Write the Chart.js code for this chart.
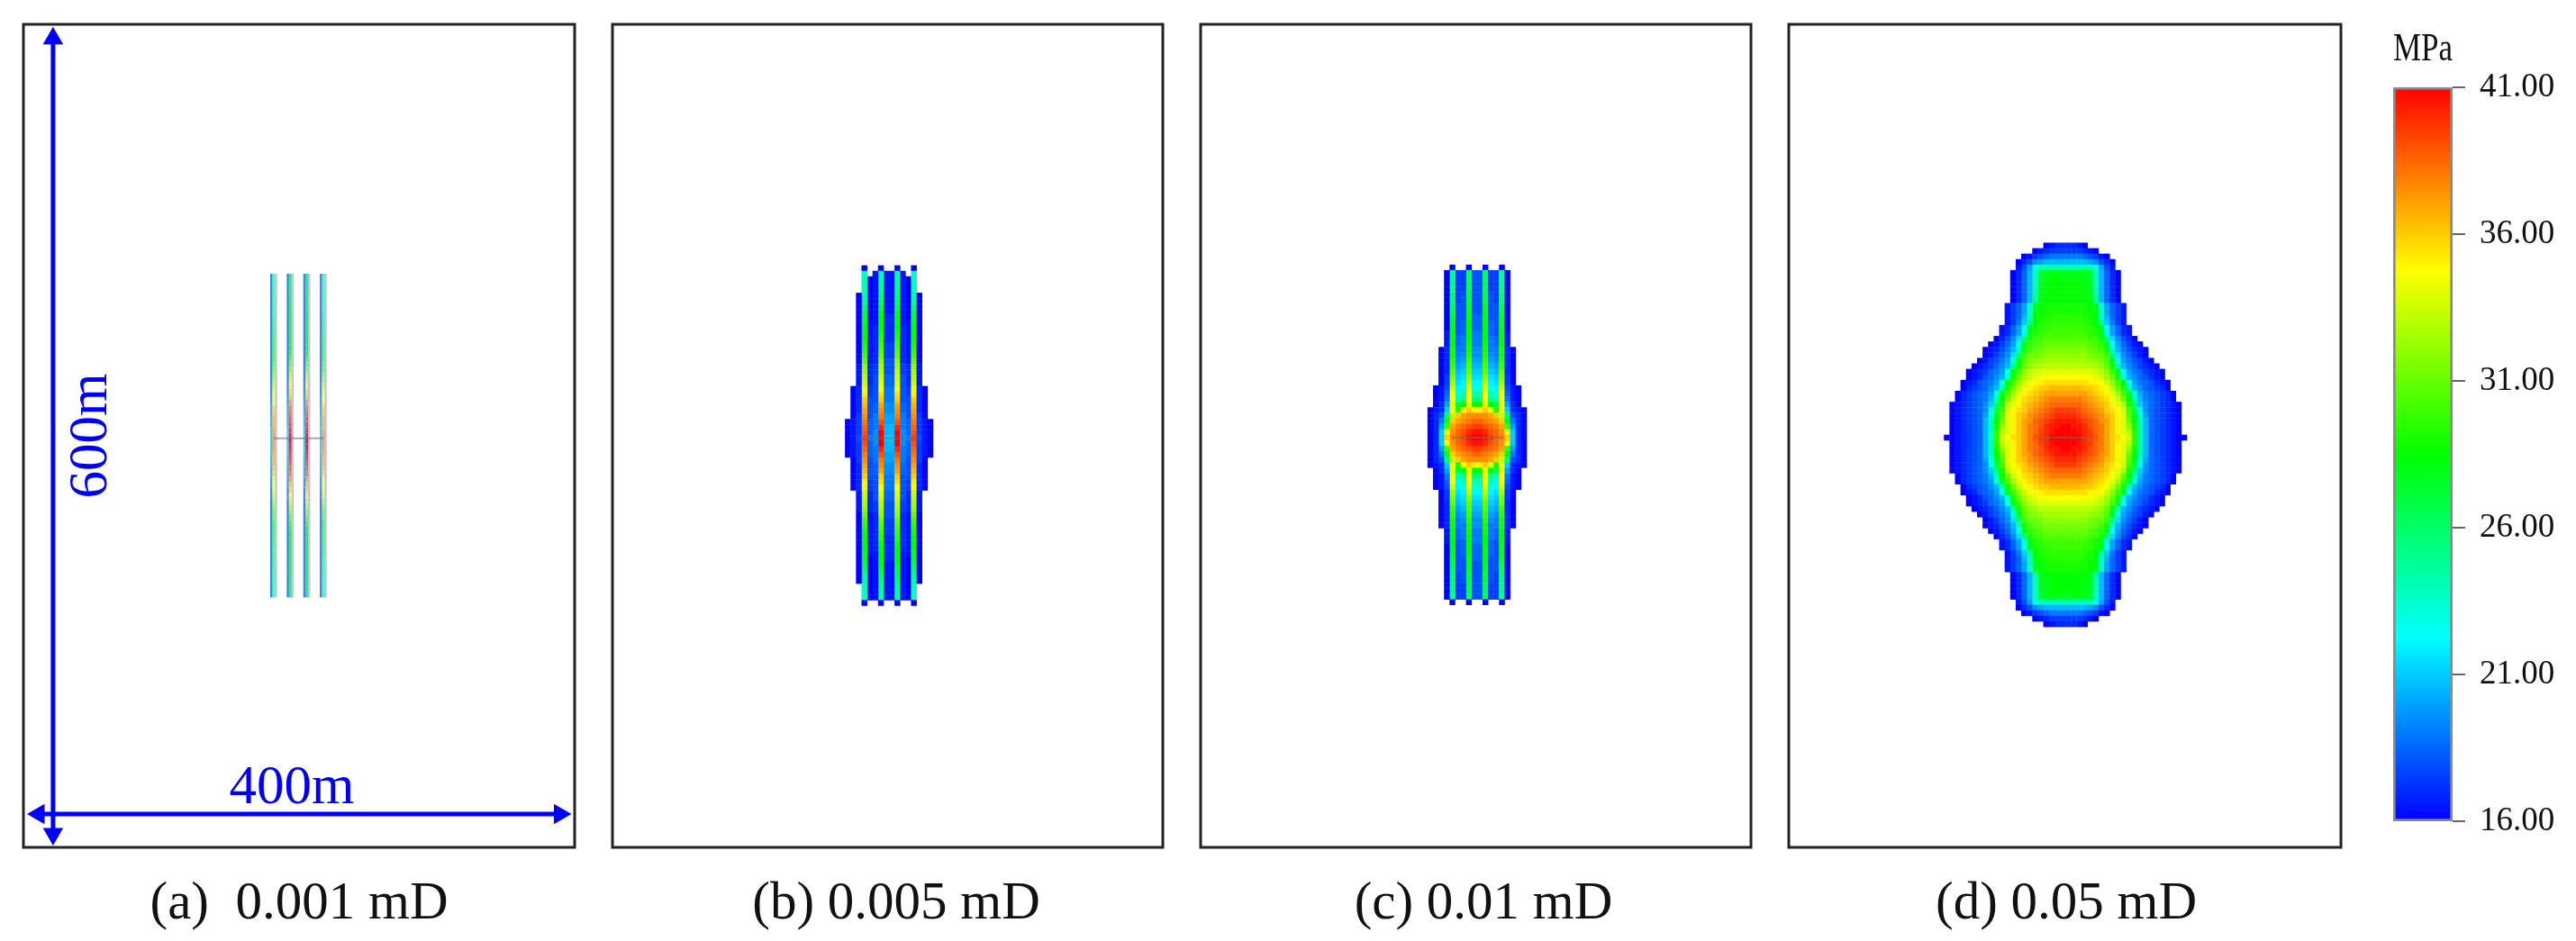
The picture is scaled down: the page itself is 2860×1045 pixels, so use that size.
<!DOCTYPE html>
<html>
<head>
<meta charset="utf-8">
<title>Pressure fields</title>
<script src="https://cdn.jsdelivr.net/npm/chart.js@4"></script>
<style>
  html, body { margin: 0; background: #fff; }
  #page { position: relative; width: 2860px; height: 1045px; overflow: hidden; }
  canvas { position: absolute; top: 0; filter: blur(0.7px); }
</style>
</head>
<body>
<div id="page"></div>
<script>
// colour scale, MPa
const scaleStops = [16, 22.25, 28.5, 34.75, 41];
const scaleColors = [[0, 0, 255], [0, 255, 255], [0, 255, 0], [255, 255, 0], [255, 0, 0]];
const scaleTicks = [16, 21, 26, 31, 36, 41];
const scaleUnit = 'MPa';

const captions = ['(a)  0.001 mD', '(b) 0.005 mD', '(c) 0.01 mD', '(d) 0.05 mD'];
const dimensionLabels = ['600m', '400m'];

// panel (a): pressure along the fractures, top of the fracture down to the well row
const aOuterStripe = [25.5,25.5,25.5,25.5,26,26,26,26.5,26.5,27,27,27.5,28,28,28.5,28.5,29.5,30,31,32,33,34,34.5,35,36,36.5,37,37,37.5,38,38];
const aInnerStripe = [27,27,27,27,27.5,27.5,27.5,28,28,28,28,28,28,28.5,29,30,31,32,33,34,34.75,35.5,36,37,38,38.5,39,39.5,40,40.5,41];
const aEdge = [18,18,18,18,18,18,18,18,18,18,18,18,18,18,18,18,18,18,18,18,18.5,18.5,19,19,19.5,19.5,20,20,20.5,20.5,20.5];

// panels (b)-(d): one row per grid row, top row first, well row last.
// each row runs from the panel's centre line outwards, null = no cell
const bRows = [
  [null,16,null,null,16],
  [16.5,24,16.5,null,24],
  [16.5,24.5,16.5,16,24],
  [16.5,25,16.5,16,24],
  [16.5,25,16.5,16,24],
  [16.5,26,16.5,16,24.5,16],
  [16.5,26.5,16.5,16,25,16],
  [16.5,27,16.5,16,26,16],
  [16.5,28,16.5,16,27,16],
  [17,28.5,16.5,16,27.5,16],
  [17,28.5,16.5,16.5,28,16],
  [17,28.5,17,16.5,28.5,16],
  [17,29,17,16.5,28.5,16],
  [17,29.5,17,16.5,28.5,16],
  [17.5,30,17,16.5,29,16],
  [17.5,30.5,17,16.5,29.5,16],
  [17.5,31,17,16.5,30,16],
  [18,32,17,16.5,31,16],
  [18,32.5,17.5,17,32,16.5],
  [18,33,17.5,17,32.5,16.5],
  [18.5,33.5,18,17,33,16.5],
  [18.5,34,18,17,33.5,16.5],
  [19,34.75,18,17.5,34.5,17,16],
  [19,35.5,18,17.5,35,17,16],
  [19,36,18,18,36,17,16],
  [19.5,37,18.5,18,36.5,17,16],
  [19.5,37.5,18.5,18,37,17,16],
  [20,38,19,18,37.5,17.5,16],
  [20,39,19,18.5,38,17.5,16.5,16],
  [20.5,40,19,18.5,38.5,17.5,16.5,16],
  [20.5,41,19.5,18.5,39,17.5,16.5,16],
  [21,41,19.5,19,39.5,18,16.5,16]
];
const cRows = [
  [null,16,null,null,16],
  [18,26,17.5,17.5,25,16],
  [18,26,17.5,17.5,25,16],
  [18,26.5,17.5,17.5,25.5,16],
  [18,26.5,17.5,17.5,25.5,16],
  [18,27,18,17.5,26,16],
  [18,27,18,17.5,26,16],
  [18,27.5,18,18,26.5,16],
  [18,28,18,18,27,16],
  [18.5,28,18,18,27.5,16],
  [18.5,28.5,18.5,18,28,16],
  [18.5,28.5,18.5,18,28,16],
  [19,28.5,18.5,18,28.5,16.5],
  [19,28.5,19,18.5,28.5,16.5],
  [19,29,19,18.5,28.5,16.5],
  [19.5,29,19,19,29,17,16],
  [19.5,29.5,19.5,19,29,17,16],
  [20,30,20,19.5,29.5,17,16],
  [20.5,30.5,20.5,20,30,17,16],
  [21,31,21,20.5,31,17,16],
  [21.5,32,21.5,21,31.5,17.5,16],
  [22,33,22,21.5,32.5,17.5,16],
  [23,34,23,22,33.5,18,16.5,16],
  [24,34.5,24,23,34.5,18.5,16.5,16],
  [25.5,35,25,24,34.5,19,16.5,16],
  [28.5,34,28.5,27,34,20,17,16],
  [35,36,34,29,35,21,17,16.5,16],
  [37.5,37.5,37,36,33,26,18,17,16],
  [38.5,38,37.5,37,36,28,19,17,16],
  [39.5,39,38.5,38,37,30,20,17,16],
  [40.5,40,39,38.5,37.5,34.5,21,17,16],
  [41,40.5,39.5,38.5,38,36,21,17,16]
];
const dRows = [
  [17,17,16.5,16],
  [17.5,17.5,17.5,17,16.5,16],
  [19,19,19,18.5,18,17.5,16.5,16],
  [20.5,20.5,20.5,20.5,20,19.5,18,17,16],
  [24,24,24,24,24,23,20,18,16.5],
  [28,28,28,28,27.5,24,20.5,18.5,17,16],
  [28,28.5,28.5,28,27.5,24,20.5,18.5,17,16],
  [28.5,28.5,28.5,28,28,24,20.5,18.5,17,16],
  [28.5,28.5,28.5,28,28,24,20.5,18.5,17,16],
  [28.5,28.5,28.5,28.5,28,25,20.5,18.5,17,16],
  [28.5,28.5,28.5,28.5,28,25,20.5,18.5,17,16],
  [29,29,29,29,28.5,28,23.5,20,18.5,17.5,16.5],
  [29,29,29,29,28.5,28,24,20,18.5,17.5,16.5],
  [29.5,29.5,29.5,29,29,28.5,24,20.5,18.5,17.5,16.5],
  [29.5,29.5,29.5,29.5,29,28.5,25,21,19,17.5,16.5],
  [30,30,30,29.5,29.5,29,28,22.5,20,18.5,17,16.5],
  [30,30,30,30,29.5,29,28,23,20,18.5,17,16.5],
  [30.5,30.5,30.5,30.5,30,30,29,26,21.5,19.5,18,17,16],
  [31,31,31,31,30.5,30,29.5,28,22.5,20,18.5,17.5,16.5,16],
  [31.5,31.5,31.5,31.5,31,31,30,29,24,20.5,19,18,17,16.5,16],
  [32,32,32,32,31.5,31,31,30,26,21.5,19.5,18.5,17.5,16.5,16],
  [32.5,32.5,32.5,32.5,32,32,31.5,30.5,28,23,20,19,18,17.5,16.5,16],
  [33,33,33,33,33,32.5,32,31,29,24.5,20.5,19.5,18.5,17.5,17,16.5,16],
  [34,34,34,34,34,33.5,33,32,30,28,22.5,20,19,18.5,17.5,17,16.5,16],
  [34.75,34.75,34.75,34.5,34.5,34,33.5,32.5,31,29,23,20.5,19.5,18.5,18,17,16.5,16],
  [35.5,35.5,35.5,35.5,35,35,34.5,33.5,32,30,28,22.5,20,19,18.5,18,17,16.5,16],
  [36.5,36.5,36.5,36,36,35.5,35,34.5,33,31,29,24,20.5,19.5,18.5,18,17.5,17,16],
  [37,37,37,37,36.5,36,35.5,35,34,32.5,30,27.5,23,20,19,18.5,18,17.5,17,16],
  [38,38,38,37.5,37,36.5,36,35.5,34.5,33.5,31,28.5,24,20.5,19,18.5,18,17.5,17,16],
  [38.5,38.5,38.5,38,37.5,37,36.5,36,35,34,33,29,26,21,19.5,18.5,18,17.5,17,16.5,16],
  [39.5,39.5,39,38.5,38,37.5,37,36,35.5,34.75,33.5,30,27,22,19.5,18.5,18,17.5,17,16.5,16],
  [40,40,39.5,39,38.5,38,37.5,36.5,36,35,34,30.5,28,23,20,18.5,18,17.5,17,16.5,16],
  [40.5,40.5,40,39.5,39,38.5,37.5,37,36,35,34,31,28.5,24,20.5,18.5,18,17.5,17,16.5,16],
  [41,40.5,40.5,40,39,38.5,38,37,36,35,34,32,29,24,20.5,18.5,18,17.5,17,16.5,16],
  [41,41,40.5,40,39.5,38.5,38,37,36,35,34,33,29.5,24,20.5,18.5,18,17.5,17,16.5,16],
  [41,41,41,40,39.5,39,38,37,36,35.5,34.5,33.5,29.5,24,20.5,18.5,18,17.5,17,16.5,16,16]
];

// model size, m
const modelX = [0, 400];
const modelY = [0, 600];
const cellSize = 4;
const fractureOffsets = [-18, -6, 6, 18];
const wellEnds = [-18, 18];

// where things sit on the page, px
const panelLefts = [25.5, 680, 1333, 1986];
const panelRights = [638.5, 1291, 1944, 2599];
const captionCenters = [332, 995, 1647, 2294];
const centerX = [199.6, 201.1, 201, 200.5];
const centerY = [298.2, 298.2, 298.7, 298.7];
const skippedLowerRows = [[0], [1], [1], [10]];

const pageEl = document.getElementById('page');

function colorFor(value, alpha = 1) {
  let i = 0;
  while (i < scaleStops.length - 2 && value > scaleStops[i + 1]) i++;
  const t = Math.min(1, Math.max(0, (value - scaleStops[i]) / (scaleStops[i + 1] - scaleStops[i])));
  const rgb = scaleColors[i].map((c, k) => Math.round(c + (scaleColors[i + 1][k] - c) * t));
  return `rgba(${rgb[0]},${rgb[1]},${rgb[2]},${alpha})`;
}

// top rows as given, lower half mirrored (the lower half is a row or so shorter)
function rowsWithY(rows, skipped, cy) {
  const out = [];
  const last = rows.length - 1;
  rows.forEach((row, idx) => out.push({ row, y: cy + (last - idx) * cellSize }));
  let k = 1;
  for (let idx = last - 1; idx >= 0; idx--) {
    if (skipped.includes(idx)) continue;
    out.push({ row: rows[idx], y: cy - k * cellSize });
    k++;
  }
  return out;
}

function cellPoints(rows, skipped, cx, cy) {
  const points = [];
  rowsWithY(rows, skipped, cy).forEach(({ row, y }) => {
    row.forEach((v, i) => {
      if (v === null) return;
      points.push({ x: cx + (i + 0.5) * cellSize, y, v });
      points.push({ x: cx - (i + 0.5) * cellSize, y, v });
    });
  });
  return points;
}

function cellDataset(points) {
  return {
    type: 'scatter',
    data: points,
    pointStyle: 'rect',
    pointBorderWidth: 0,
    pointRadius: ctx => {
      const sx = ctx.chart.scales.x;
      return (sx.getPixelForValue(cellSize) - sx.getPixelForValue(0)) * 1.06 / Math.SQRT2;
    },
    pointBackgroundColor: ctx => colorFor(ctx.raw.v),
  };
}

function wellDataset(cx, cy) {
  return {
    type: 'scatter',
    showLine: true,
    data: wellEnds.map(dx => ({ x: cx + dx, y: cy })),
    borderColor: 'rgba(110,110,110,0.6)',
    borderWidth: 2,
    pointRadius: 0,
  };
}

function stripeDataset(values, x, cy, width, alpha) {
  const rows = rowsWithY(values, skippedLowerRows[0], cy);
  rows.sort((p, q) => q.y - p.y);
  return {
    type: 'scatter',
    showLine: true,
    data: rows.map(({ row, y }) => ({ x, y, v: row })),
    borderWidth: width,
    borderColor: colorFor(values[0], alpha),
    segment: { borderColor: ctx => colorFor(ctx.p0.raw.v, alpha) },
    pointRadius: 0,
  };
}

function arrowDataset(from, to, rotations) {
  return {
    type: 'scatter',
    showLine: true,
    data: [from, to],
    borderColor: '#0000ff',
    backgroundColor: '#0000ff',
    borderWidth: 5,
    pointStyle: 'triangle',
    pointRadius: 13,
    pointBorderWidth: 0,
    pointBackgroundColor: '#0000ff',
    pointRotation: rotations,
  };
}

const framePlugin = {
  id: 'frame',
  afterDraw(chart) {
    const { left, top, width, height } = chart.chartArea;
    const c = chart.ctx;
    c.save();
    c.strokeStyle = '#222';
    c.lineWidth = 3;
    c.strokeRect(left, top, width, height);
    c.restore();
  },
};

const dimensionTextPlugin = {
  id: 'dimensionText',
  afterDraw(chart) {
    const { x, y } = chart.scales;
    const c = chart.ctx;
    c.save();
    c.fillStyle = '#0000ff';
    c.font = '61px "Liberation Serif"';
    c.textAlign = 'center';
    c.textBaseline = 'middle';
    c.save();
    c.translate(x.getPixelForValue(49.5), y.getPixelForValue(300));
    c.rotate(-Math.PI / 2);
    c.fillText(dimensionLabels[0], 0, 0);
    c.restore();
    c.fillText(dimensionLabels[1], x.getPixelForValue(194.8), y.getPixelForValue(43));
    c.restore();
  },
};

function addCanvas(left, width) {
  const canvas = document.createElement('canvas');
  canvas.width = width;
  canvas.height = 1045;
  canvas.style.left = left + 'px';
  canvas.style.width = width + 'px';
  canvas.style.height = '1045px';
  pageEl.appendChild(canvas);
  return canvas;
}

function drawPanel(index, datasets, plugins) {
  const canvasLeft = Math.floor(panelLefts[index]) - 12;
  const canvasWidth = Math.ceil(panelRights[index] - canvasLeft) + 12;
  // captions are not centred under their frames, the title block has to be nudged
  const captionShift = {
    id: 'captionShift',
    afterLayout(chart) {
      const dx = captionCenters[index] - (panelLefts[index] + panelRights[index]) / 2;
      chart.titleBlock.left += dx;
      chart.titleBlock.right += dx;
    },
  };
  new Chart(addCanvas(canvasLeft, canvasWidth), {
    type: 'scatter',
    data: { datasets },
    plugins: [framePlugin, captionShift, ...plugins],
    options: {
      responsive: false,
      animation: false,
      events: [],
      layout: {
        padding: {
          left: panelLefts[index] - canvasLeft,
          right: canvasLeft + canvasWidth - panelRights[index],
          top: 27,
          bottom: 0,
        },
      },
      scales: {
        x: { type: 'linear', min: modelX[0], max: modelX[1], display: false },
        y: { type: 'linear', min: modelY[0], max: modelY[1], display: false },
      },
      plugins: {
        legend: { display: false },
        tooltip: { enabled: false },
        title: {
          display: true,
          position: 'bottom',
          text: captions[index],
          color: '#111',
          font: { family: '"Liberation Serif"', size: 59, weight: 'normal', lineHeight: 1 },
          padding: { top: 34, bottom: 11 },
        },
      },
    },
  });
}

// panel (a)
const aDatasets = [
  arrowDataset({ x: 21.5, y: 589.6 }, { x: 21.5, y: 9.8 }, [0, 180]),
  arrowDataset({ x: 11.1, y: 24.3 }, { x: 389.2, y: 24.3 }, [-90, 90]),
  wellDataset(centerX[0], centerY[0]),
];
fractureOffsets.forEach((dx, s) => {
  const x = centerX[0] + dx;
  const isOuter = s === 0 || s === 3;
  aDatasets.push(stripeDataset(isOuter ? aOuterStripe : aInnerStripe, x, centerY[0], 3, isOuter ? 0.7 : 0.9));
  aDatasets.push(stripeDataset(aEdge, x - 1.7, centerY[0], 2.5, 0.75));
  aDatasets.push(stripeDataset(aEdge.map(() => 16), x + 1.7, centerY[0], 2.5, 0.25));
});
drawPanel(0, aDatasets, [dimensionTextPlugin]);

// panels (b), (c), (d)
[bRows, cRows, dRows].forEach((rows, k) => {
  const i = k + 1;
  drawPanel(i, [
    wellDataset(centerX[i], centerY[i]),
    cellDataset(cellPoints(rows, skippedLowerRows[i], centerX[i], centerY[i])),
  ], []);
});

// colour bar
new Chart(addCanvas(2640, 220), {
  type: 'bar',
  data: {
    labels: [scaleUnit],
    datasets: [{
      data: [[scaleStops[0], scaleStops[scaleStops.length - 1]]],
      barPercentage: 1,
      categoryPercentage: 1,
      borderColor: '#8a8a8a',
      borderWidth: 3,
      borderSkipped: false,
      backgroundColor: ctx => {
        const { chart } = ctx;
        if (!chart.chartArea) return '#00f';
        const y = chart.scales.y;
        const g = chart.ctx.createLinearGradient(0, y.getPixelForValue(scaleStops[0]), 0, y.getPixelForValue(scaleStops[4]));
        scaleStops.forEach((v, i) => g.addColorStop((v - scaleStops[0]) / (scaleStops[4] - scaleStops[0]), colorFor(v)));
        return g;
      },
    }],
  },
  options: {
    responsive: false,
    animation: false,
    events: [],
    layout: { padding: { left: 17, right: 22, top: 29, bottom: 133 } },
    scales: {
      x: {
        position: 'top',
        ticks: { display: false },
        grid: { display: false, drawTicks: false },
        border: { display: false },
        title: {
          display: true,
          text: scaleUnit,
          color: '#111',
          font: { family: '"Liberation Serif"', size: 44, weight: 'normal' },
          padding: { top: 0, bottom: 15 },
        },
      },
      y: {
        position: 'right',
        min: scaleStops[0],
        max: scaleStops[4],
        afterBuildTicks: axis => { axis.ticks = scaleTicks.map(value => ({ value })); },
        afterFit: axis => { axis.width = 115; },
        ticks: {
          autoSkip: false,
          padding: 16,
          color: '#111',
          font: { family: '"Liberation Serif"', size: 37 },
          callback: value => Number(value).toFixed(2),
        },
        grid: { drawOnChartArea: false, tickLength: 14, color: '#666', lineWidth: 2 },
        border: { display: false },
      },
    },
    plugins: { legend: { display: false }, tooltip: { enabled: false } },
  },
});
</script>
</body>
</html>
